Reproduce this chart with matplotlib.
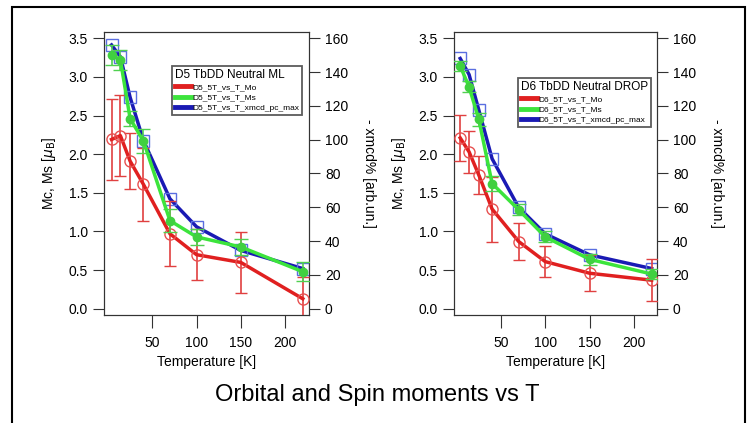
import matplotlib.pyplot as plt
from matplotlib.lines import Line2D
from matplotlib.patches import Rectangle

plt.rcParams['font.family'] = ['Liberation Sans', 'DejaVu Sans']

# temperatures [K]
temp = [4, 14, 25, 40, 70, 100, 150, 220]

# D5 TbDD Neutral ML
d5_mo = [2.19, 2.24, 1.91, 1.61, 0.97, 0.70, 0.60, 0.13]
d5_mo_err = [0.52, 0.52, 0.36, 0.47, 0.42, 0.33, 0.39, 0.28]
d5_ms = [3.28, 3.22, 2.46, 2.17, 1.14, 0.93, 0.80, 0.48]
d5_ms_err = [0.13, 0.13, 0.10, 0.16, 0.15, 0.10, 0.10, 0.12]
d5_xmcd = [156, 149, 125, 99.5, 65, 48.5, 34.5, 23.8]

# D6 TbDD Neutral DROP
d6_mo = [2.21, 2.03, 1.73, 1.29, 0.87, 0.61, 0.46, 0.37]
d6_mo_err = [0.30, 0.27, 0.25, 0.42, 0.24, 0.20, 0.23, 0.27]
d6_ms = [3.14, 2.87, 2.45, 1.62, 1.28, 0.93, 0.64, 0.45]
d6_ms_err = [0.07, 0.07, 0.08, 0.10, 0.07, 0.07, 0.07, 0.07]
d6_xmcd = [148, 138.5, 117.5, 88.7, 59.9, 44.3, 31.9, 23.8]

RED = '#e02020'
GREEN = '#3ce43c'
BLUE = '#1a1ab4'
SCALE = 160 / 3.5


def draw_panel(fig, rect, name, mo, mo_err, ms, ms_err, xmcd, xlim, leg_rect):
    ax = fig.add_axes(rect)
    ax2 = ax.twinx()
    tag = name[:2]

    ax.errorbar(temp, mo, yerr=mo_err, color=RED, lw=2.5, marker='o', ms=8,
                mfc='none', mec='#e85050', mew=1, ecolor='#e04040', elinewidth=1.2,
                capsize=4, zorder=3)
    ax.errorbar(temp, ms, yerr=ms_err, color=GREEN, lw=2.5, marker='o', ms=6,
                mfc='#40d040', mec='#40d040', ecolor='#50d050', elinewidth=1.2,
                capsize=5, zorder=4)
    ax2.plot(temp, xmcd, color=BLUE, lw=2.5, marker='s', ms=8, mfc='none',
             mec='#5a6ee0', mew=1, zorder=5)

    ax.set_xlim(*xlim)
    ax.set_ylim(-0.08, 3.58)
    ax2.set_ylim(-0.08 * SCALE, 3.58 * SCALE)
    ax.set_xticks([50, 100, 150, 200])
    ax.set_yticks([0, 0.5, 1.0, 1.5, 2.0, 2.5, 3.0, 3.5])
    ax.set_yticklabels(['0.0', '0.5', '1.0', '1.5', '2.0', '2.5', '3.0', '3.5'])
    ax2.set_yticks([0, 20, 40, 60, 80, 100, 120, 140, 160])

    for a in (ax, ax2):
        for s in a.spines.values():
            s.set_color('#333333')
    ax.tick_params(axis='x', direction='out', length=9, labelsize=10, pad=6, color='#333333')
    ax.tick_params(axis='y', direction='out', length=8, labelsize=10, color='#333333')
    ax2.tick_params(axis='y', direction='out', length=8, labelsize=10, color='#333333')

    ax.set_xlabel('Temperature [K]', fontsize=10, labelpad=4)
    ax.set_ylabel(r'Mc, Ms [$\mu_{\rm B}$]', fontsize=10, labelpad=8)
    ax2.set_ylabel('- xmcd% [arb.un.]', fontsize=10, rotation=-90, labelpad=20)

    handles = [Line2D([], [], color=RED, lw=3.5),
               Line2D([], [], color=GREEN, lw=3.5),
               Line2D([], [], color=BLUE, lw=3.5)]
    labels = [tag + '_5T_vs_T_Mo', tag + '_5T_vs_T_Ms', tag + '_5T_vs_T_xmcd_pc_max']
    leg = ax.legend(handles, labels, title=name, loc='upper left',
                    bbox_to_anchor=leg_rect, bbox_transform=fig.transFigure,
                    fontsize=6.0, title_fontsize=8.5, frameon=True, fancybox=False,
                    handlelength=1.9, handletextpad=0.2, labelspacing=0.3,
                    borderpad=0.35, borderaxespad=0, alignment='left')
    leg.get_frame().set_edgecolor('#333333')
    leg.get_frame().set_linewidth(1.3)
    leg.set_zorder(10)
    ax.set_zorder(ax2.get_zorder() + 1)
    ax.patch.set_visible(False)
    return ax


fig = plt.figure(figsize=(7.54, 4.23), dpi=100)

draw_panel(fig, [104 / 754, 1 - 315 / 423, 205 / 754, 283 / 423], 'D5 TbDD Neutral ML',
           d5_mo, d5_mo_err, d5_ms, d5_ms_err, d5_xmcd, (-4.5, 227),
           (172 / 754, 1 - 66 / 423))
draw_panel(fig, [454 / 754, 1 - 315 / 423, 203 / 754, 283 / 423], 'D6 TbDD Neutral DROP',
           d6_mo, d6_mo_err, d6_ms, d6_ms_err, d6_xmcd, (-3, 226),
           (518 / 754, 1 - 78 / 423))

fig.text(0.5, 1 - 395 / 423, 'Orbital and Spin moments vs T', ha='center', va='center',
         fontsize=17)

fig.patches.append(Rectangle((12 / 754, -0.1), 733 / 754, 1.1 - 7 / 423,
                             transform=fig.transFigure, fill=False, ec='black',
                             lw=1.5, clip_on=False))

fig.savefig('out.png', dpi=100)
